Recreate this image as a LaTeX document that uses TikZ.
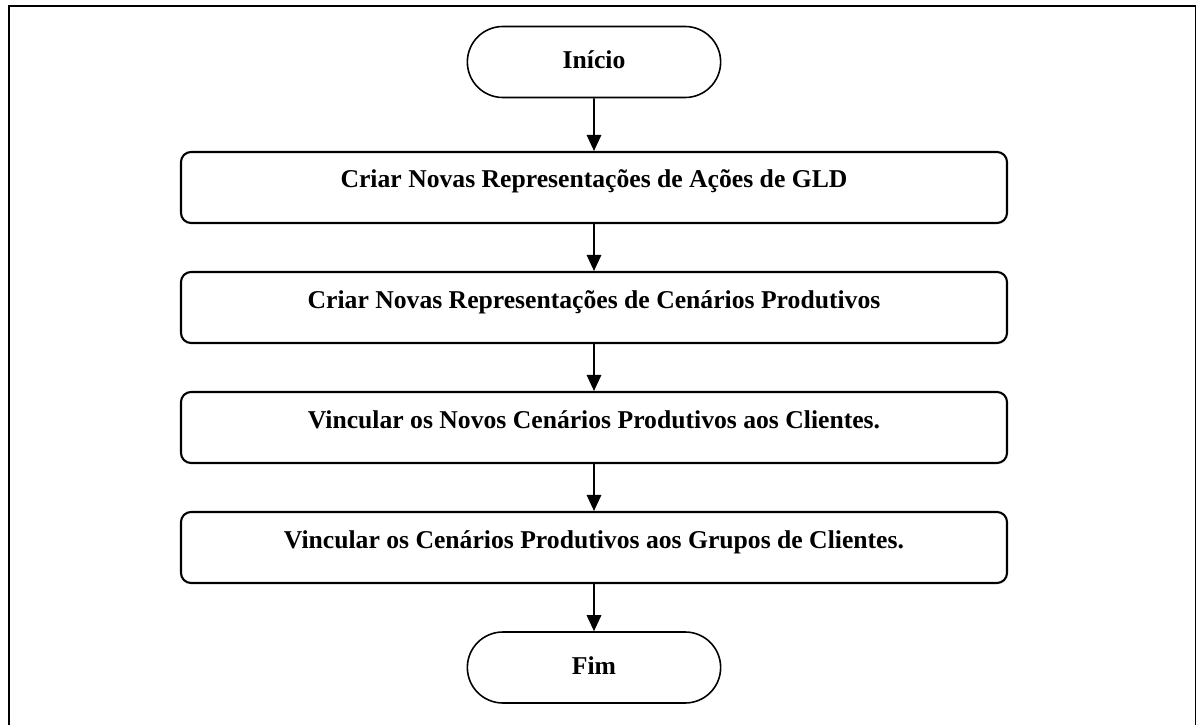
\documentclass[tikz,border=0pt]{standalone}
\usepackage{fontspec}
\setmainfont{Liberation Serif}
\usepackage{tikz}
\usetikzlibrary{arrows.meta,shapes.misc}

\tikzset{
    passo/.style={draw, line width=1.2pt, rounded corners=0.2cm, minimum width=16.52cm,
        inner ysep=0pt, text height=0.72cm, text depth=0.70cm,
        font=\fontsize{14.6}{17}\selectfont\bfseries},
    terminal/.style={draw, line width=0.9pt, rounded rectangle, minimum width=5.3cm,
        inner ysep=0pt, text height=0.85cm, text depth=0.57cm,
        font=\fontsize{14.6}{17}\selectfont\bfseries},
    seta/.style={-{Triangle[width=0.29cm,length=0.32cm]}, line width=0.9pt}
}

\begin{document}
\begin{tikzpicture}
    \useasboundingbox (0, 0) rectangle (23.92, 14.48);
    \clip (0, 0) rectangle (23.92, 14.48);

    % Outer frame
    \draw[line width=1.3pt] (0.18, -0.5) rectangle (23.93, 14.36);

    % Start and end
    \node[terminal] (inicio) at (11.88, 13.24) {Início};
    \node[terminal] (fim) at (11.88, 1.13) {Fim};

    % Steps
    \node[passo] (acoes) at (11.88, 10.73) {Criar Novas Representações de Ações de GLD};
    \node[passo] (cenarios) at (11.88, 8.33) {Criar Novas Representações de Cenários Produtivos};
    \node[passo] (clientes) at (11.88, 5.93) {Vincular os Novos Cenários Produtivos aos Clientes.};
    \node[passo] (grupos) at (11.88, 3.53) {Vincular os Cenários Produtivos aos Grupos de Clientes.};

    % Arrows between steps
    \draw[seta] (inicio) -- (acoes);
    \draw[seta] (acoes) -- (cenarios);
    \draw[seta] (cenarios) -- (clientes);
    \draw[seta] (clientes) -- (grupos);
    \draw[seta] (grupos) -- (fim);
\end{tikzpicture}
\end{document}
